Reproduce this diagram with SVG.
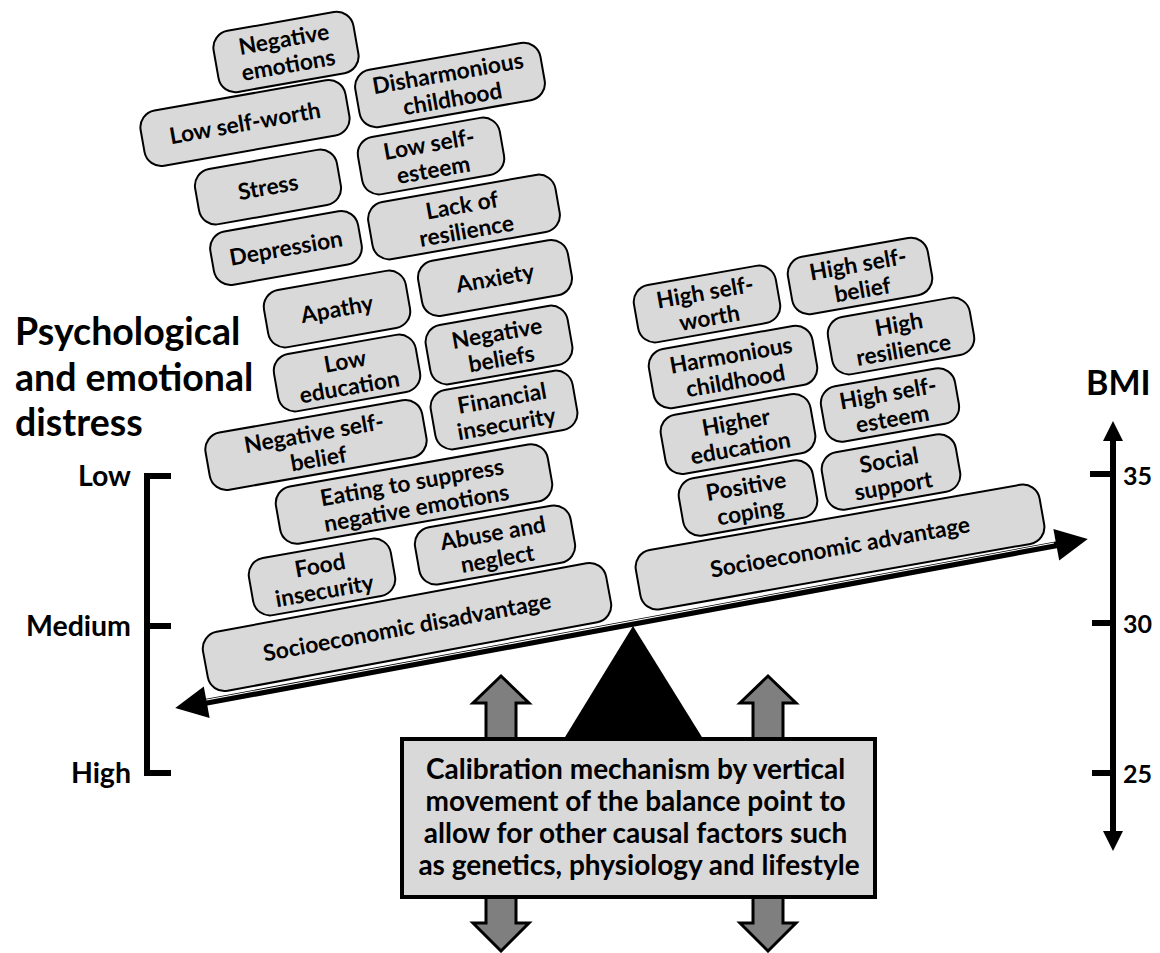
<svg xmlns="http://www.w3.org/2000/svg" width="1160" height="953" viewBox="0 0 1160 953">
  <style>
    .box rect { fill: #d9d9d9; stroke: #000; stroke-width: 2; }
    .box text { font-family: Lato, "Liberation Sans", sans-serif; font-weight: bold; font-size: 22.8px; fill: #000; text-anchor: middle; }
    .lbl { font-family: Lato, "Liberation Sans", sans-serif; font-weight: bold; fill: #000; }
    .axis { stroke: #000; stroke-width: 6; fill: none; }
    .updown { fill: #7f7f7f; stroke: #000; stroke-width: 3; stroke-linejoin: miter; }
  </style>

  <!-- left axis: psychological and emotional distress -->
  <g id="distress-axis">
    <text class="lbl" x="15" y="345" font-size="37.5">Psychological</text>
    <text class="lbl" x="15" y="391" font-size="37.5">and emotional</text>
    <text class="lbl" x="15" y="436" font-size="37.5">distress</text>
    <path class="axis" d="M171 476 H147 V773 H171 M147 626 H171"/>
    <text class="lbl" x="131" y="486" font-size="28.5" text-anchor="end">Low</text>
    <text class="lbl" x="131" y="636" font-size="28.5" text-anchor="end">Medium</text>
    <text class="lbl" x="131" y="783" font-size="28.5" text-anchor="end">High</text>
  </g>

  <!-- right axis: BMI -->
  <g id="bmi-axis">
    <text class="lbl" x="1086" y="395" font-size="34">BMI</text>
    <line class="axis" x1="1113" y1="438" x2="1113" y2="834"/>
    <polygon points="1113,421 1103,441 1123,441" fill="#000"/>
    <polygon points="1113,851 1103,831 1123,831" fill="#000"/>
    <path class="axis" d="M1090 474 H1113 M1092 623 H1113 M1092 773 H1113"/>
    <text class="lbl" x="1123" y="485" font-size="25">35</text>
    <text class="lbl" x="1123" y="633" font-size="25">30</text>
    <text class="lbl" x="1123" y="783" font-size="25">25</text>
  </g>

  <!-- fulcrum, calibration arrows and calibration box -->
  <g id="fulcrum">
    <polygon points="633,626 562,742 705,742" fill="#000"/>
  </g>
  <g id="calibration-arrows">
    <polygon class="updown" points="501,676 529,703 516,703 516,923 529,923 501,951 473,923 486,923 486,703 473,703"/>
    <polygon class="updown" points="768,676 796,703 783,703 783,923 796,923 768,951 740,923 753,923 753,703 740,703"/>
  </g>
  <g id="calibration">
    <rect x="402" y="739" width="473" height="158" fill="#d9d9d9" stroke="#000" stroke-width="4"/>
    <text class="lbl" font-size="28" text-anchor="middle">
      <tspan x="639" y="779">Calibration mechanism by vertical</tspan>
      <tspan x="639" y="811">movement of the balance point to</tspan>
      <tspan x="639" y="843">allow for other causal factors such</tspan>
      <tspan x="639" y="875">as genetics, physiology and lifestyle</tspan>
    </text>
  </g>

  <!-- balance beam -->
  <g id="connectors">
    <g transform="translate(631.5,623.5) rotate(-10.49)">
      <line x1="-436" y1="0" x2="436" y2="0" stroke="#000" stroke-width="7"/>
      <line x1="-436" y1="-2.2" x2="430" y2="-2.2" stroke="#fff" stroke-width="1"/>
      <polygon points="-464,0 -432,-16 -432,16" fill="#000"/>
      <polygon points="464,0 432,-16 432,16" fill="#000"/>
    </g>
  </g>

  <!-- disadvantage stack -->
  <g id="negative-emotions" class="box" transform="translate(286,52) rotate(-10)">
    <rect x="-71" y="-31" width="142" height="62" rx="17"/>
    <text><tspan x="0" y="-5">Negative</tspan><tspan x="0" y="21">emotions</tspan></text>
  </g>
  <g id="low-self-worth" class="box" transform="translate(245,123) rotate(-10)">
    <rect x="-104" y="-28" width="208" height="56" rx="17"/>
    <text><tspan x="0" y="8">Low self-worth</tspan></text>
  </g>
  <g id="disharmonious-childhood" class="box" transform="translate(450,85) rotate(-10)">
    <rect x="-94" y="-29" width="188" height="58" rx="17"/>
    <text><tspan x="0" y="-4">Disharmonious</tspan><tspan x="0" y="22">childhood</tspan></text>
  </g>
  <g id="stress" class="box" transform="translate(268,187) rotate(-10)">
    <rect x="-72" y="-28" width="144" height="56" rx="17"/>
    <text><tspan x="0" y="8">Stress</tspan></text>
  </g>
  <g id="low-self-esteem" class="box" transform="translate(431,156) rotate(-10)">
    <rect x="-72" y="-29" width="144" height="58" rx="17"/>
    <text><tspan x="0" y="-4">Low self-</tspan><tspan x="0" y="22">esteem</tspan></text>
  </g>
  <g id="depression" class="box" transform="translate(286,248) rotate(-10)">
    <rect x="-75" y="-27" width="150" height="54" rx="17"/>
    <text><tspan x="0" y="8">Depression</tspan></text>
  </g>
  <g id="lack-of-resilience" class="box" transform="translate(464,217) rotate(-10)">
    <rect x="-95" y="-29" width="190" height="58" rx="17"/>
    <text><tspan x="0" y="-4">Lack of</tspan><tspan x="0" y="22">resilience</tspan></text>
  </g>
  <g id="apathy" class="box" transform="translate(337,309) rotate(-10)">
    <rect x="-72" y="-29" width="144" height="58" rx="17"/>
    <text><tspan x="0" y="8">Apathy</tspan></text>
  </g>
  <g id="anxiety" class="box" transform="translate(495,278) rotate(-10)">
    <rect x="-76" y="-28" width="152" height="56" rx="17"/>
    <text><tspan x="0" y="8">Anxiety</tspan></text>
  </g>
  <g id="low-education" class="box" transform="translate(347,373) rotate(-10)">
    <rect x="-72" y="-29" width="144" height="58" rx="17"/>
    <text><tspan x="0" y="-4">Low</tspan><tspan x="0" y="22">education</tspan></text>
  </g>
  <g id="negative-beliefs" class="box" transform="translate(499,345) rotate(-10)">
    <rect x="-72" y="-30" width="144" height="60" rx="17"/>
    <text><tspan x="0" y="-4">Negative</tspan><tspan x="0" y="22">beliefs</tspan></text>
  </g>
  <g id="negative-self-belief" class="box" transform="translate(316,445) rotate(-10)">
    <rect x="-110" y="-29" width="220" height="58" rx="17"/>
    <text><tspan x="0" y="-4">Negative self-</tspan><tspan x="0" y="22">belief</tspan></text>
  </g>
  <g id="financial-insecurity" class="box" transform="translate(504,410) rotate(-10)">
    <rect x="-72" y="-30" width="144" height="60" rx="17"/>
    <text><tspan x="0" y="-4">Financial</tspan><tspan x="0" y="22">insecurity</tspan></text>
  </g>
  <g id="eating-to-suppress" class="box" transform="translate(414,494) rotate(-10)">
    <rect x="-138" y="-29" width="276" height="58" rx="17"/>
    <text><tspan x="0" y="-4">Eating to suppress</tspan><tspan x="0" y="22">negative emotions</tspan></text>
  </g>
  <g id="food-insecurity" class="box" transform="translate(322,577) rotate(-10)">
    <rect x="-72" y="-29" width="144" height="58" rx="17"/>
    <text><tspan x="0" y="-4">Food</tspan><tspan x="0" y="22">insecurity</tspan></text>
  </g>
  <g id="abuse-and-neglect" class="box" transform="translate(495,545) rotate(-10)">
    <rect x="-79" y="-29" width="158" height="58" rx="17"/>
    <text><tspan x="0" y="-4">Abuse and</tspan><tspan x="0" y="22">neglect</tspan></text>
  </g>
  <g id="socioeconomic-disadvantage" class="box" transform="translate(407,627) rotate(-10.5)">
    <rect x="-205" y="-30" width="410" height="60" rx="17"/>
    <text><tspan x="0" y="8">Socioeconomic disadvantage</tspan></text>
  </g>

  <!-- advantage stack -->
  <g id="high-self-worth" class="box" transform="translate(707,304) rotate(-10)">
    <rect x="-72" y="-29" width="144" height="58" rx="17"/>
    <text><tspan x="0" y="-4">High self-</tspan><tspan x="0" y="22">worth</tspan></text>
  </g>
  <g id="high-self-belief" class="box" transform="translate(860,276) rotate(-10)">
    <rect x="-71" y="-29" width="142" height="58" rx="17"/>
    <text><tspan x="0" y="-4">High self-</tspan><tspan x="0" y="22">belief</tspan></text>
  </g>
  <g id="harmonious-childhood" class="box" transform="translate(733,367) rotate(-10)">
    <rect x="-83" y="-30" width="166" height="60" rx="17"/>
    <text><tspan x="0" y="-4">Harmonious</tspan><tspan x="0" y="22">childhood</tspan></text>
  </g>
  <g id="high-resilience" class="box" transform="translate(901,336) rotate(-10)">
    <rect x="-72" y="-29" width="144" height="58" rx="17"/>
    <text><tspan x="0" y="-4">High</tspan><tspan x="0" y="22">resilience</tspan></text>
  </g>
  <g id="higher-education" class="box" transform="translate(738,434) rotate(-10)">
    <rect x="-76" y="-30" width="152" height="60" rx="17"/>
    <text><tspan x="0" y="-4">Higher</tspan><tspan x="0" y="22">education</tspan></text>
  </g>
  <g id="high-self-esteem" class="box" transform="translate(890,405) rotate(-10)">
    <rect x="-68" y="-28" width="136" height="56" rx="17"/>
    <text><tspan x="0" y="-4">High self-</tspan><tspan x="0" y="22">esteem</tspan></text>
  </g>
  <g id="positive-coping" class="box" transform="translate(748,498) rotate(-10)">
    <rect x="-68" y="-29" width="136" height="58" rx="17"/>
    <text><tspan x="0" y="-4">Positive</tspan><tspan x="0" y="22">coping</tspan></text>
  </g>
  <g id="social-support" class="box" transform="translate(891,472) rotate(-10)">
    <rect x="-68" y="-29" width="136" height="58" rx="17"/>
    <text><tspan x="0" y="-4">Social</tspan><tspan x="0" y="22">support</tspan></text>
  </g>
  <g id="socioeconomic-advantage" class="box" transform="translate(840,547) rotate(-10)">
    <rect x="-205" y="-30" width="410" height="60" rx="17"/>
    <text><tspan x="0" y="8">Socioeconomic advantage</tspan></text>
  </g>
</svg>
